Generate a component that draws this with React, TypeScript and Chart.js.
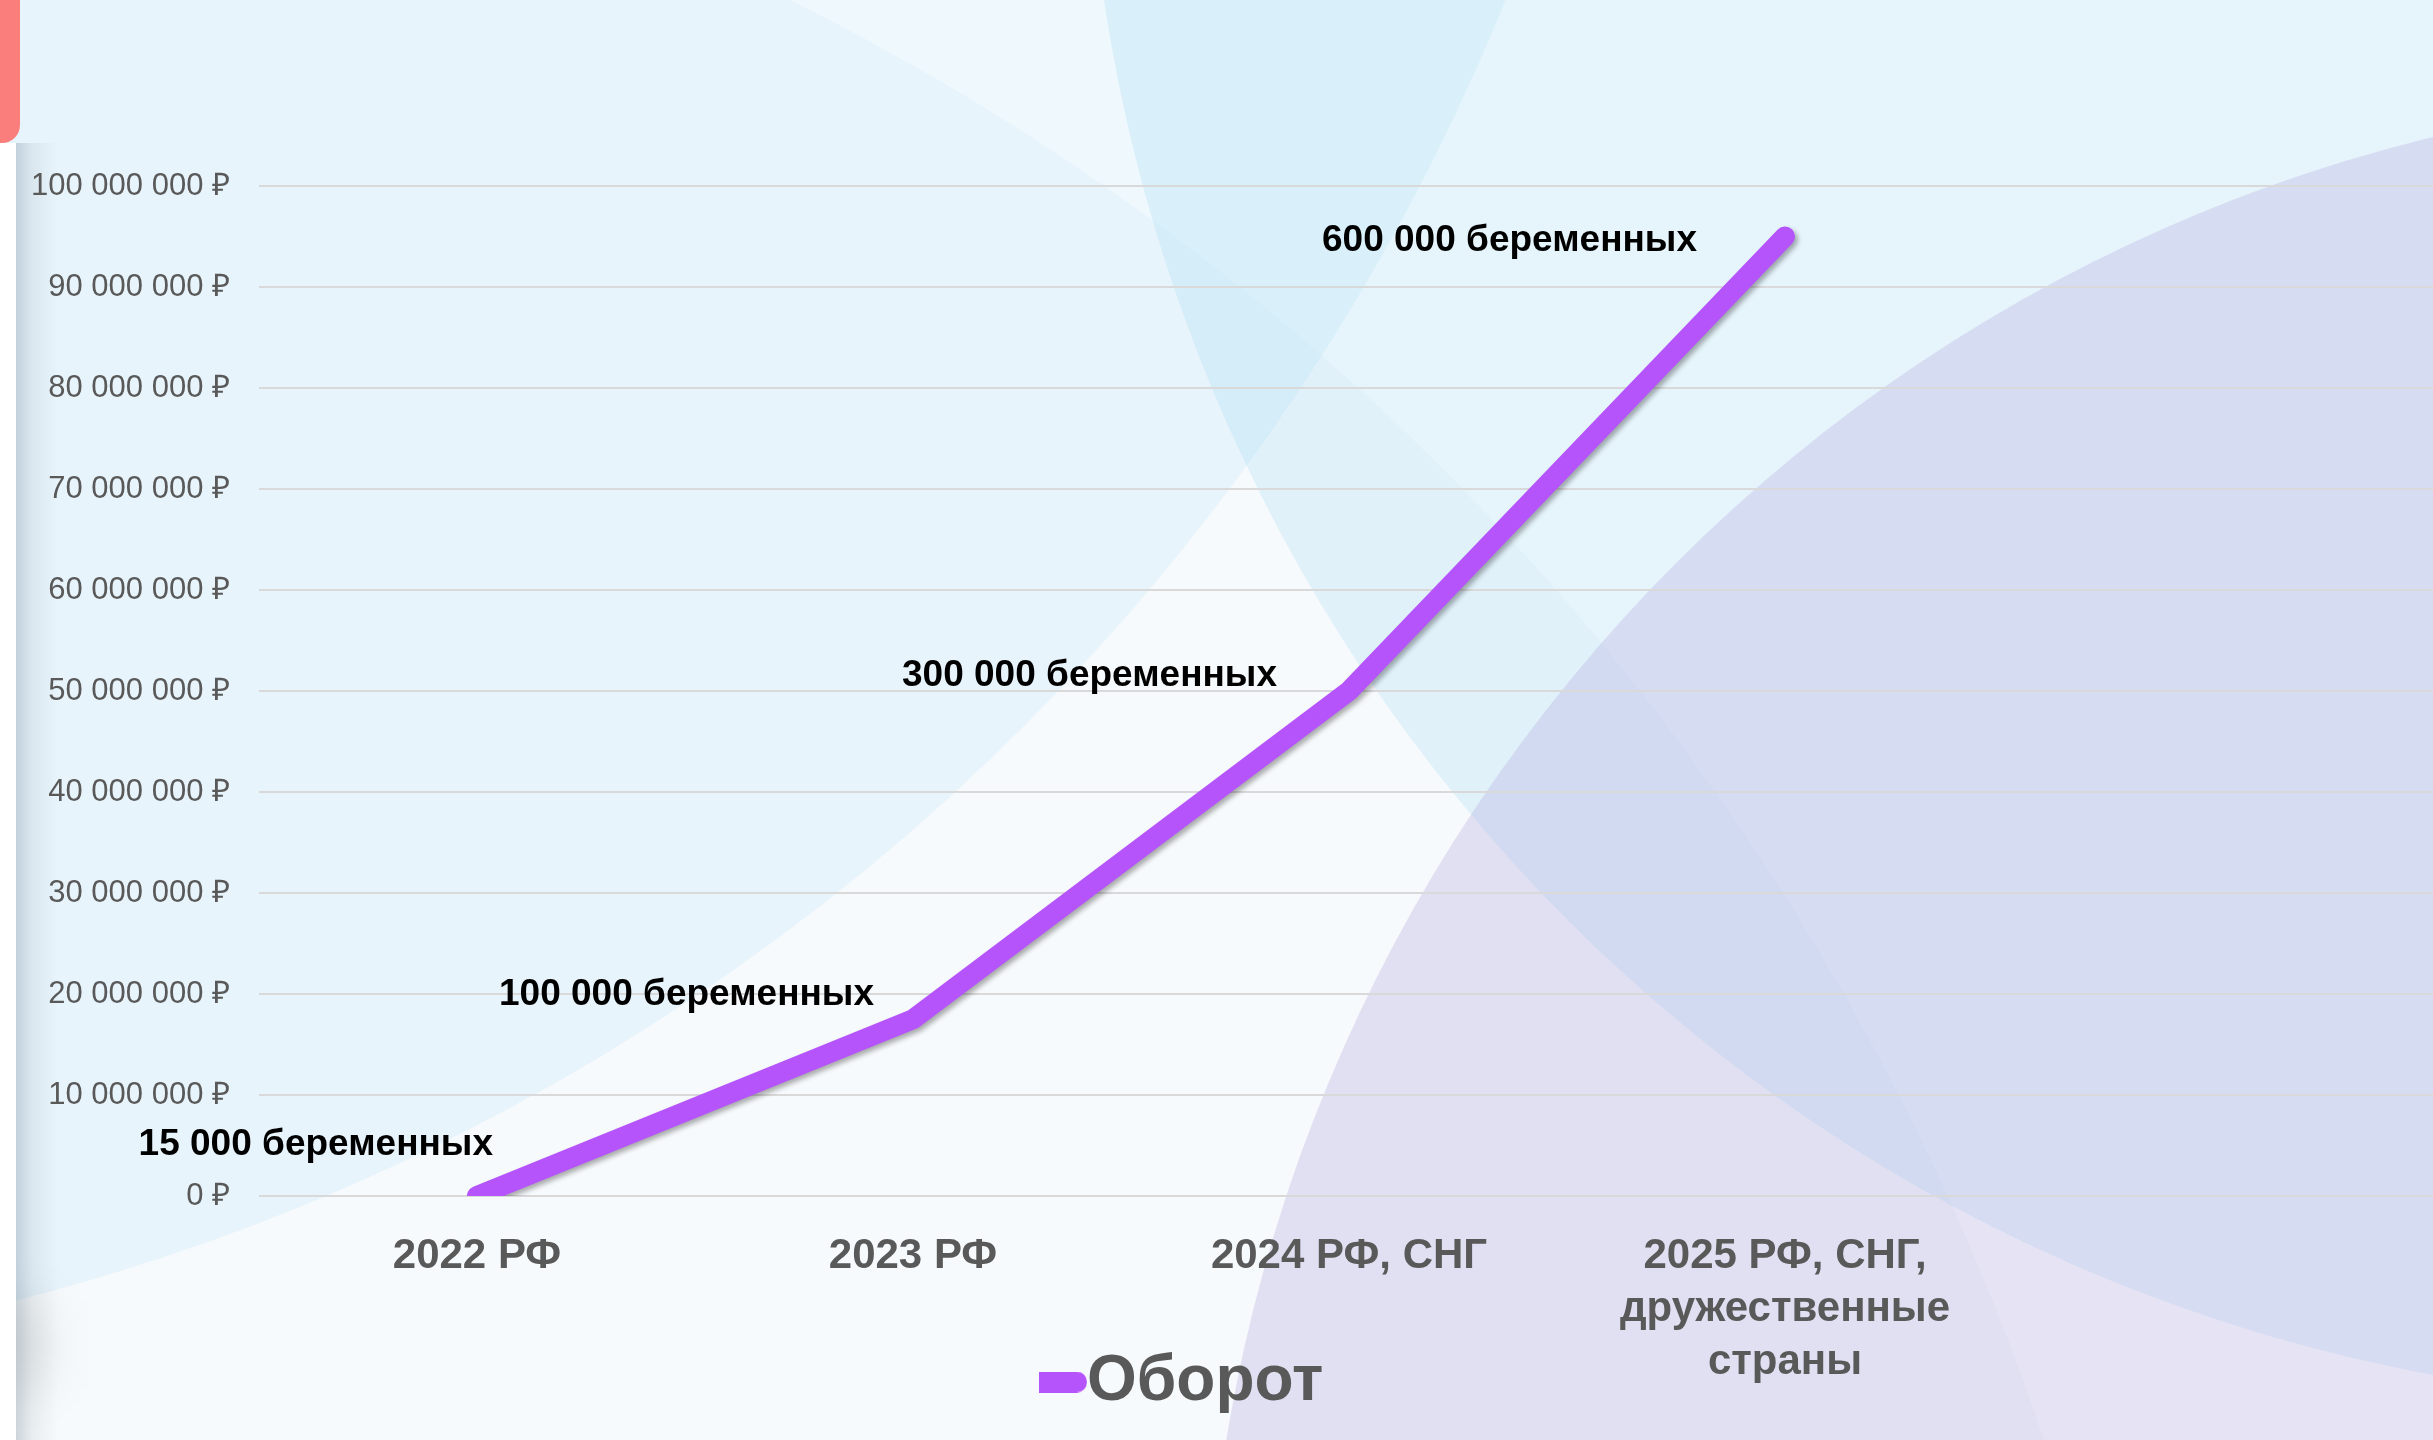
import React, { useEffect, useRef } from 'react';
import { Chart, registerables } from 'chart.js';

Chart.register(...registerables);

// ---- data ----
const categories: (string | string[])[] = [
  '2022 РФ',
  '2023 РФ',
  '2024 РФ, СНГ',
  ['2025 РФ, СНГ,', 'дружественные', 'страны'],
  '',
];
const seriesName = 'Оборот';
const turnover = [0, 17500000, 50000000, 95000000];
const pointLabels = ['15 000 беременных', '100 000 беременных', '300 000 беременных', '600 000 беременных'];
const yMin = 0;
const yMax = 100000000;
const yStep = 10000000;

// ---- style ----
const LINE_COLOR = '#b654fc';
const TEXT_GRAY = '#595959';
const FONT = "'Liberation Sans', Arial, Helvetica, sans-serif";
// label offsets (right edge dx, vertical dy) relative to each point
const labelOffsets: [number, number][] = [
  [16, -51],
  [-39, -24],
  [-72, -15],
  [-88, 4],
];

function formatRub(v: number): string {
  return String(Math.round(v)).replace(/\B(?=(\d{3})+(?!\d))/g, ' ') + ' ₽';
}

const backgroundPlugin = {
  id: 'bgShapes',
  beforeDraw(chart: any) {
    const ctx: CanvasRenderingContext2D = chart.ctx;
    const w = chart.width;
    const h = chart.height;
    ctx.save();
    ctx.fillStyle = '#ffffff';
    ctx.fillRect(0, 0, w, h);
    const circles: [number, number, number, string][] = [
      [-315, 2228, 2487, 'rgba(225,235,245,0.25)'],
      [-528, -826, 2195, 'rgba(190,228,248,0.26)'],
      [2731, -243, 1645, 'rgba(155,215,243,0.25)'],
      [2815, 1701, 1610, 'rgba(190,185,228,0.40)'],
    ];
    for (const [cx, cy, r, c] of circles) {
      ctx.beginPath();
      ctx.arc(cx, cy, r, 0, Math.PI * 2);
      ctx.fillStyle = c;
      ctx.fill();
    }
    // soft grey smudge near the bottom-left corner
    ctx.save();
    ctx.filter = 'blur(22px)';
    ctx.fillStyle = 'rgba(0,0,0,0.07)';
    ctx.fillRect(-10, 1300, 60, 90);
    ctx.restore();
    // left white edge + soft shadow
    ctx.fillStyle = '#ffffff';
    ctx.fillRect(0, 143, 16, h - 143);
    const g = ctx.createLinearGradient(16, 0, 58, 0);
    g.addColorStop(0, 'rgba(40,70,90,0.2)');
    g.addColorStop(0.4, 'rgba(40,70,90,0.07)');
    g.addColorStop(1, 'rgba(40,70,90,0)');
    ctx.fillStyle = g;
    ctx.fillRect(16, 143, 42, h - 143);
    // red tab
    ctx.fillStyle = '#fa7f7c';
    ctx.beginPath();
    (ctx as any).roundRect(-20, -20, 40, 163, 18);
    ctx.fill();
    ctx.restore();
  },
};

// legend is laid out at the top (reserving header space) and drawn below the axis labels
const legendPlacePlugin = {
  id: 'legendPlace',
  afterLayout(chart: any) {
    const lg = chart.legend;
    if (lg) {
      const hgt = lg.bottom - lg.top;
      lg.top = 1340;
      lg.bottom = 1340 + hgt;
      lg.left = 1039;
    }
  },
};

const shadowPlugin = {
  id: 'lineShadow',
  beforeDatasetDraw(chart: any) {
    const ctx = chart.ctx;
    ctx.save();
    ctx.shadowColor = 'rgba(0,0,0,0.32)';
    ctx.shadowBlur = 5;
    ctx.shadowOffsetX = 3;
    ctx.shadowOffsetY = 3;
  },
  afterDatasetDraw(chart: any) {
    chart.ctx.restore();
  },
};

const pointLabelPlugin = {
  id: 'pointLabels',
  afterDatasetsDraw(chart: any) {
    const ctx: CanvasRenderingContext2D = chart.ctx;
    const meta = chart.getDatasetMeta(0);
    ctx.save();
    ctx.font = `bold 37px ${FONT}`;
    ctx.fillStyle = '#000000';
    ctx.textAlign = 'right';
    ctx.textBaseline = 'middle';
    meta.data.forEach((pt: any, i: number) => {
      if (!pointLabels[i]) return;
      const [dx, dy] = labelOffsets[i];
      ctx.fillText(pointLabels[i], pt.x + dx, pt.y + dy);
    });
    ctx.restore();
  },
};

export default function App() {
  const ref = useRef<HTMLCanvasElement>(null);

  useEffect(() => {
    const canvas = ref.current;
    if (!canvas) return;

    const marker = document.createElement('canvas');
    marker.width = 70;
    marker.height = 21;
    const mctx = marker.getContext('2d')!;
    mctx.fillStyle = LINE_COLOR;
    mctx.beginPath();
    (mctx as any).roundRect(0, 0, 70, 21, 10.5);
    mctx.fill();

    const chart = new Chart(canvas, {
      type: 'line',
      data: {
        labels: categories as any,
        datasets: [
          {
            label: seriesName,
            data: turnover,
            borderColor: LINE_COLOR,
            backgroundColor: LINE_COLOR,
            borderWidth: 20,
            borderCapStyle: 'round',
            borderJoinStyle: 'round',
            pointRadius: 0,
            pointHoverRadius: 0,
            tension: 0,
            fill: false,
            clip: 0,
          } as any,
        ],
      },
      options: {
        animation: false,
        responsive: false,
        events: [],
        layout: { padding: { top: 102, left: 0, right: 1, bottom: 0 } },
        plugins: {
          legend: {
            display: true,
            position: 'top',
            align: 'start',
            labels: {
              usePointStyle: true,
              pointStyle: marker as any,
              pointStyleWidth: 6,
              padding: 10,
              color: TEXT_GRAY,
              font: { family: FONT, size: 64, weight: 'bold' },
            },
          },
          tooltip: { enabled: false },
          title: { display: false },
        },
        scales: {
          x: {
            type: 'category',
            offset: true,
            grid: { display: false, drawTicks: false },
            border: { display: false },
            ticks: {
              color: TEXT_GRAY,
              font: { family: FONT, size: 42, weight: 'bold', lineHeight: 1.26 },
              padding: 34,
              maxRotation: 0,
              minRotation: 0,
              autoSkip: false,
            },
            afterFit: (s: any) => {
              s.height = 244;
            },
          },
          y: {
            min: yMin,
            max: yMax,
            ticks: {
              stepSize: yStep,
              color: TEXT_GRAY,
              font: { family: FONT, size: 31 },
              padding: 29,
              callback: (v: any) => formatRub(Number(v)),
            },
            grid: { color: '#d9d9d9', lineWidth: 2, drawTicks: false },
            border: { display: false },
            afterFit: (s: any) => {
              s.width = 259;
            },
          },
        },
      },
      plugins: [backgroundPlugin, legendPlacePlugin, shadowPlugin, pointLabelPlugin],
    });

    return () => chart.destroy();
  }, []);

  return (
    <div
      style={{
        position: 'fixed',
        left: 0,
        top: 0,
        width: 2433,
        height: 1440,
        overflow: 'hidden',
        background: '#ffffff',
      }}
    >
      <canvas ref={ref} width={2440} height={1440} style={{ display: 'block', width: 2440, height: 1440 }} />
    </div>
  );
}
